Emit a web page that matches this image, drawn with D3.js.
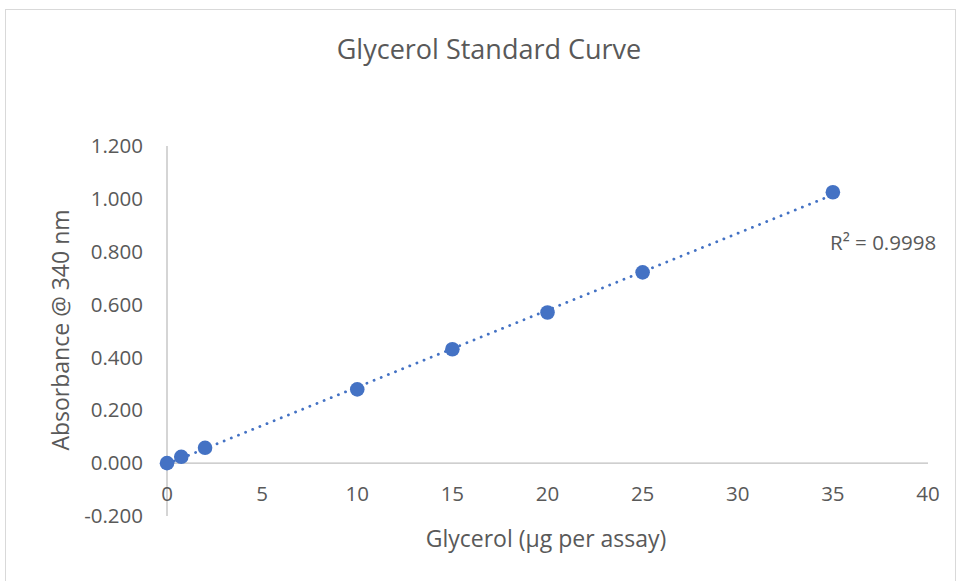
<!DOCTYPE html>
<html>
<head>
<meta charset="utf-8">
<script src="https://cdn.jsdelivr.net/npm/d3@7"></script>
<style>
  body { margin: 0; background: #fff; }
  text { font-family: "Open Sans", "Liberation Sans", sans-serif; fill: #595959; }
</style>
</head>
<body>
<div id="chart"></div>
<script>
// glycerol standard, values
const glycerol = [0, 0.75, 2, 10, 15, 20, 25, 35];
const absorbance = [0.000, 0.024, 0.058, 0.279, 0.431, 0.570, 0.722, 1.025];
const xTicks = [0, 5, 10, 15, 20, 25, 30, 35, 40];
const yTicks = [-0.2, 0, 0.2, 0.4, 0.6, 0.8, 1.0, 1.2];
const r2Label = "R² = 0.9998";

const width = 959,
    height = 581;

const svg = d3.select('#chart').append('svg')
    .attr('width', width)
    .attr('height', height);

// chart frame
svg.append('rect')
    .attr('x', 5.5).attr('y', 9.5)
    .attr('width', 950).attr('height', 590)
    .attr('fill', 'none')
    .attr('stroke', '#d9d9d9');

let x = d3.scaleLinear().domain([0, 40]).range([167, 928]);
let y = d3.scaleLinear().domain([-0.2, 1.2]).range([516, 146]);

// axes (no gridlines)
svg.append('line')
    .attr('x1', x(0)).attr('x2', x(0))
    .attr('y1', y(-0.2)).attr('y2', y(1.2))
    .attr('stroke', '#bfbfbf').attr('stroke-width', 1.3);

svg.append('line')
    .attr('x1', x(0)).attr('x2', x(40))
    .attr('y1', y(0)).attr('y2', y(0))
    .attr('stroke', '#bfbfbf').attr('stroke-width', 1.3);

svg.append('g')
    .selectAll('text')
    .data(yTicks)
    .enter()
    .append('text')
    .attr('x', 143)
    .attr('y', d => y(d))
    .attr('dy', '0.35em')
    .attr('text-anchor', 'end')
    .style('font-size', '20.5px')
    .text(d => d3.format('.3f')(d).replace('−', '-'));

svg.append('g')
    .selectAll('text')
    .data(xTicks)
    .enter()
    .append('text')
    .attr('x', d => x(d))
    .attr('y', 494)
    .attr('dy', '0.35em')
    .attr('text-anchor', 'middle')
    .style('font-size', '20.5px')
    .text(d => d);

// linear trendline
const mx = d3.mean(glycerol),
    my = d3.mean(absorbance);
let sxy = 0, sxx = 0;
glycerol.forEach((g, i) => {
    sxy += (g - mx) * (absorbance[i] - my);
    sxx += (g - mx) * (g - mx);
});
const slope = sxy / sxx,
    icpt = my - slope * mx;
const xEnds = d3.extent(glycerol);

svg.append('line')
    .attr('x1', x(xEnds[0])).attr('y1', y(icpt + slope * xEnds[0]))
    .attr('x2', x(xEnds[1])).attr('y2', y(icpt + slope * xEnds[1]))
    .attr('stroke', '#4472c4')
    .attr('stroke-width', 2.8)
    .attr('stroke-linecap', 'round')
    .attr('stroke-dasharray', '0.1 7.6');

// points
svg.append('g')
    .selectAll('circle')
    .data(glycerol)
    .enter()
    .append('circle')
    .attr('cx', d => x(d))
    .attr('cy', (d, i) => y(absorbance[i]))
    .attr('r', 7.3)
    .attr('fill', '#4472c4');

svg.append('text')
    .attr('x', 830)
    .attr('y', 243)
    .attr('dy', '0.35em')
    .style('font-size', '20.5px')
    .text(r2Label);

// titles
svg.append('text')
    .attr('x', 489)
    .attr('y', 50)
    .attr('dy', '0.35em')
    .attr('text-anchor', 'middle')
    .style('font-size', '27px')
    .text('Glycerol Standard Curve');

svg.append('text')
    .attr('x', 546)
    .attr('y', 539)
    .attr('dy', '0.35em')
    .attr('text-anchor', 'middle')
    .style('font-size', '23px')
    .text('Glycerol (µg per assay)');

svg.append('text')
    .attr('transform', 'translate(61,330) rotate(-90)')
    .attr('dy', '0.35em')
    .attr('text-anchor', 'middle')
    .style('font-size', '23px')
    .text('Absorbance @ 340 nm');
</script>
</body>
</html>
